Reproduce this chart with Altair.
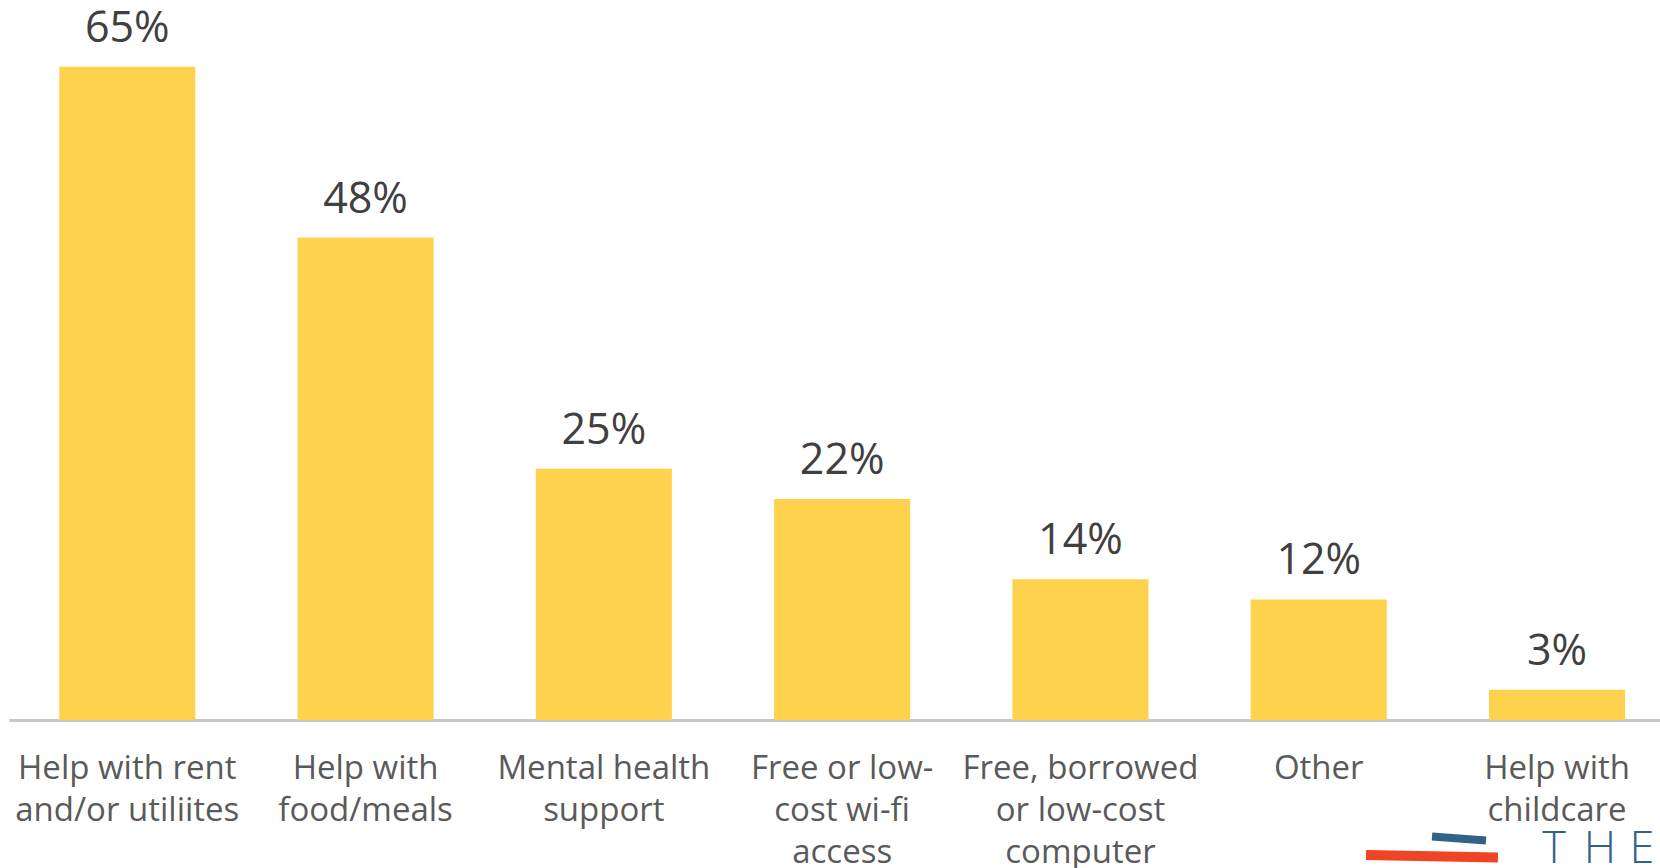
import altair as alt
import pandas as pd

categories = [
    "Help with rent|and/or utiliites",
    "Help with|food/meals",
    "Mental health|support",
    "Free or low-|cost wi-fi|access",
    "Free, borrowed|or low-cost|computer",
    "Other",
    "Help with|childcare",
]
values = [65, 48, 25, 22, 14, 12, 3]
value_labels = [f"{v}%" for v in values]

df = pd.DataFrame({"cat": categories, "val": values, "lbl": value_labels})

FONT = "Open Sans"
BAR = "#FFD24D"

x_enc = alt.X(
    "cat:N",
    sort=categories,
    scale=alt.Scale(paddingInner=0.429, paddingOuter=0.1786, align=0.59),
    axis=alt.Axis(
        title=None,
        ticks=False,
        labelAngle=0,
        labelPadding=32,
        labelBaseline="top",
        labelFont=FONT,
        labelFontSize=33,
        labelColor="#5a5a5a",
        labelLineHeight=42,
        labelLimit=0,
        labelOverlap=False,
        labelExpr="split(datum.label, '|')",
        domainColor="#c8c8c8",
        domainWidth=3,
        grid=False,
    ),
)
y_enc = alt.Y("val:Q", scale=alt.Scale(domain=[0, 71.64], nice=False, zero=True), axis=None)

base = alt.Chart(df)
bars = base.mark_bar(color=BAR).encode(x=x_enc, y=y_enc)
texts = base.mark_text(
    font=FONT, fontSize=43, color="#404040", baseline="alphabetic", dy=-25
).encode(x=x_enc, y=y_enc, text="lbl:N")

one = pd.DataFrame({"k": [0]})
red = alt.Chart(one).mark_rule(color="#EE4526", strokeWidth=10, strokeCap="butt").encode(
    x=alt.value(1357), x2=alt.value(1489), y=alt.value(855), y2=alt.value(857.5)
)
blue = alt.Chart(one).mark_rule(color="#336189", strokeWidth=8, strokeCap="butt").encode(
    x=alt.value(1423), x2=alt.value(1477), y=alt.value(836.5), y2=alt.value(840.5)
)
logo_letters = ["T", "H", "E"]
logo_x = [1545, 1591, 1633]
logo_layers = [
    alt.Chart(one).mark_text(
        font=FONT, fontSize=45, fontWeight=300, color="#336189", baseline="alphabetic", align="center"
    ).encode(x=alt.value(xx), y=alt.value(863), text=alt.value(ch))
    for ch, xx in zip(logo_letters, logo_x)
]

chart = alt.layer(bars, texts, red, blue, *logo_layers).properties(
    width=1651,
    height=720,
    padding={"left": 9, "top": 0, "right": 0, "bottom": 148},
    autosize=alt.AutoSizeParams(type="none"),
    background="white",
).configure_view(stroke=None)

chart.save("out.html", embed_options={"renderer": "svg", "actions": False})
